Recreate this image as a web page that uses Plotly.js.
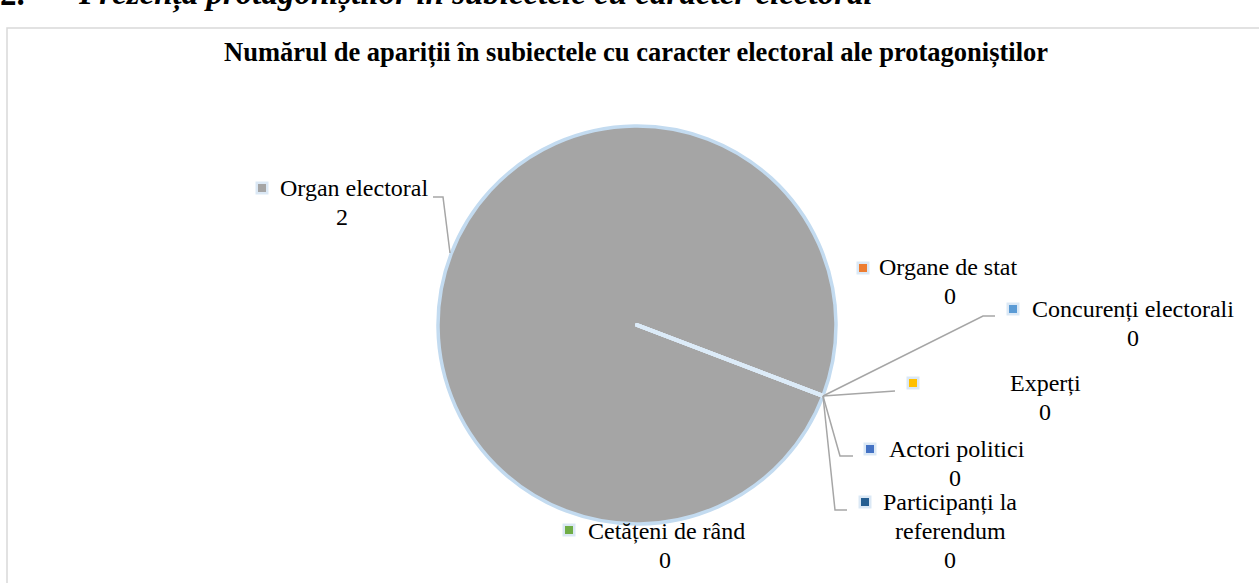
<!DOCTYPE html>
<html>
<head>
<meta charset="utf-8">
<script src="https://cdn.plot.ly/plotly-3.0.1.min.js"></script>
<style>html,body{margin:0;padding:0;background:#fff;}#chart{width:1259px;height:583px;}</style>
</head>
<body>
<div id="chart"></div>
<script>
// ---- data ----
var categories = ['Concurenți electorali', 'Organe de stat', 'Organ electoral', 'Experți', 'Actori politici', 'Cetățeni de rând', 'Participanți la referendum'];
var appearances = [0, 0, 2, 0, 0, 0, 0];
var sliceColors = ['#5B9BD5', '#ED7D31', '#A5A5A5', '#FFC000', '#4472C4', '#70AD47', '#255E91'];
var chartTitle = 'Numărul de apariții în subiectele cu caracter electoral ale protagoniștilor';
var headingNumber = '2.';
var headingText = 'Prezența protagoniștilor în subiectele cu caracter electoral';

// ---- layout helpers (pixel -> paper) ----
var W = 1259, H = 583;
function px(x) { return x / W; }
function py(y) { return 1 - y / H; }

// label placement (layout only): name lines, centres, marker square, leader line
var labelLayout = [
  {lines: ['Concurenți electorali'], cx: 1133, y0: 309, vx: 1133, sq: [1013, 309], leader: [[995, 316], [983, 316], [823, 396]]},
  {lines: ['Organe de stat'], cx: 948, y0: 267, vx: 950, sq: [863, 268], leader: null},
  {lines: ['Organ electoral'], cx: 354, y0: 188, vx: 342, sq: [262, 188], leader: [[433, 197], [443, 197], [450, 253]]},
  {lines: ['Experți'], cx: 1045, y0: 383, vx: 1045, sq: [913, 383], leader: [[823, 396], [895, 391]]},
  {lines: ['Actori politici'], cx: 957, y0: 449, vx: 955, sq: [870, 449], leader: [[823, 396], [840, 456], [853, 456]]},
  {lines: ['Cetățeni de rând'], cx: 666, y0: 531, vx: 665, sq: [569, 530], leader: null},
  {lines: ['Participanți la', 'referendum'], cx: 950, y0: 502, vx: 950, sq: [865, 502], leader: [[823, 396], [835, 510], [847, 510]]}
];
var lineGap = 29;
var labelFont = {family: 'Liberation Serif, Times New Roman, serif', size: 24, color: '#000'};

var annotations = [];
var shapes = [];

// frame of the chart area
shapes.push({type: 'rect', xref: 'paper', yref: 'paper', x0: px(7), x1: px(1265), y0: py(28), y1: py(600),
  line: {color: '#d9d9d9', width: 1.5}, fillcolor: 'rgba(0,0,0,0)', layer: 'below'});

categories.forEach(function (name, i) {
  var L = labelLayout[i];
  L.lines.forEach(function (t, k) {
    annotations.push({xref: 'paper', yref: 'paper', x: px(L.cx), y: py(L.y0 + k * lineGap), text: t,
      showarrow: false, xanchor: 'center', yanchor: 'middle', font: labelFont});
  });
  annotations.push({xref: 'paper', yref: 'paper', x: px(L.vx), y: py(L.y0 + L.lines.length * lineGap),
    text: String(appearances[i]), showarrow: false, xanchor: 'center', yanchor: 'middle', font: labelFont});
  // marker square with soft halo
  shapes.push({type: 'rect', xref: 'paper', yref: 'paper', x0: px(L.sq[0] - 6.5), x1: px(L.sq[0] + 6.5),
    y0: py(L.sq[1] + 6.5), y1: py(L.sq[1] - 6.5), line: {width: 0}, fillcolor: '#dbe8f5'});
  shapes.push({type: 'rect', xref: 'paper', yref: 'paper', x0: px(L.sq[0] - 4), x1: px(L.sq[0] + 4),
    y0: py(L.sq[1] + 4), y1: py(L.sq[1] - 4), line: {width: 0}, fillcolor: sliceColors[i]});
  if (L.leader) {
    var d = L.leader.map(function (p, k) { return (k ? 'L' : 'M') + px(p[0]) + ',' + py(p[1]); }).join(' ');
    shapes.push({type: 'path', xref: 'paper', yref: 'paper', path: d, line: {color: '#a6a6a6', width: 1.5}});
  }
});

// chart title
annotations.push({xref: 'paper', yref: 'paper', x: px(636), y: py(52), text: '<b>' + chartTitle + '</b>',
  showarrow: false, xanchor: 'center', yanchor: 'middle',
  font: {family: 'Liberation Serif, Times New Roman, serif', size: 26.5, color: '#000'}});
// document heading above (cut off at top)
var headFont = {family: 'Liberation Serif, Times New Roman, serif', size: 33, color: '#000'};
annotations.push({xref: 'paper', yref: 'paper', x: px(-2), y: py(-6), text: '<b>' + headingNumber + '</b>',
  showarrow: false, xanchor: 'left', yanchor: 'middle', font: headFont});
annotations.push({xref: 'paper', yref: 'paper', x: px(76), y: py(-6), text: '<b><i>' + headingText + '</i></b>',
  showarrow: false, xanchor: 'left', yanchor: 'middle', font: headFont});

var lineColors = appearances.map(function (v) { return v > 0 ? '#c3dbf0' : '#dcebf8'; });
var lineWidths = appearances.map(function (v) { return v > 0 ? 3.5 : 4; });

var trace = {
  type: 'pie',
  labels: categories,
  values: appearances,
  sort: false,
  direction: 'clockwise',
  rotation: 110.85,
  textinfo: 'none',
  hoverinfo: 'skip',
  marker: {colors: sliceColors, line: {color: lineColors, width: lineWidths}},
  domain: {x: [px(438), px(836)], y: [py(524), py(126)]},
  showlegend: false
};

var layout = {
  width: W, height: H,
  margin: {l: 0, r: 0, t: 0, b: 0},
  paper_bgcolor: '#ffffff',
  showlegend: false,
  annotations: annotations,
  shapes: shapes
};

Plotly.newPlot('chart', [trace], layout, {staticPlot: true, displayModeBar: false});
</script>
</body>
</html>
